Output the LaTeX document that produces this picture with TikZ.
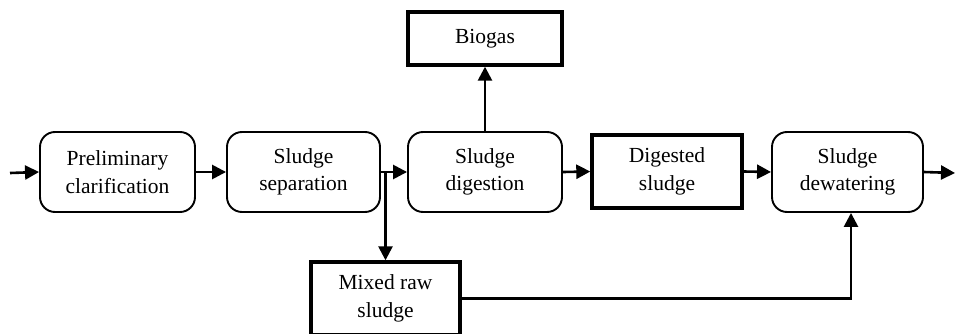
\documentclass[tikz,border=0pt]{standalone}
\usepackage{fontspec}
\setmainfont{Liberation Serif}
\usetikzlibrary{arrows.meta,positioning}

\begin{document}
\begin{tikzpicture}[x=1pt, y=1pt,
    font=\fontsize{21.5}{27.5}\selectfont,
    procbox/.style={draw, line width=1.9pt, rounded corners=15pt, minimum width=153pt, minimum height=80pt, align=center, inner sep=0pt},
    storebox/.style={draw, line width=3.4pt, minimum height=73pt, align=center, inner sep=0pt},
    flow/.style={-{Triangle[length=14pt, width=14pt]}, line width=2.6pt}]
    \clip (0,0) rectangle (959,333);

    % Process chain
    \node[procbox, minimum width=155pt] (prelim) at (117.5,161) {Preliminary\\clarification};
    \node[procbox] (sep) at (303.5,161) {Sludge\\separation};
    \node[procbox, minimum width=154pt] (dig) at (485,161) {Sludge\\digestion};
    \node[storebox, minimum width=150pt] (digested) at (667,161.5) {Digested\\sludge};
    \node[procbox, minimum width=151pt] (dew) at (847.5,161) {Sludge\\dewatering};

    % Side products
    \node[storebox, minimum width=154pt, minimum height=53pt] (bio) at (485,294.5) {Biogas};
    \node[storebox, minimum width=149pt] (mixed) at (385.5,34.5) {Mixed raw\\sludge};

    % Inflow and outflow ends
    \coordinate (inlet) at (10,160);
    \coordinate (outlet) at (955,160);

    % Main flow
    \draw[flow] (inlet) -- (prelim.west);
    \draw[flow] (prelim.east) -- (sep.west);
    \draw[flow] (sep.east) -- (dig.west);
    \draw[flow] (dig.east) -- (digested.west);
    \draw[flow] (digested.east) -- (dew.west);
    \draw[flow] (dew.east) -- (outlet);

    % Branches
    \draw[flow] (dig.north) -- (bio.south);
    \draw[flow] (mixed.north |- sep.east) -- (mixed.north);
    \draw[flow] (mixed.east) -| ([xshift=3.5pt]dew.south);
\end{tikzpicture}
\end{document}
